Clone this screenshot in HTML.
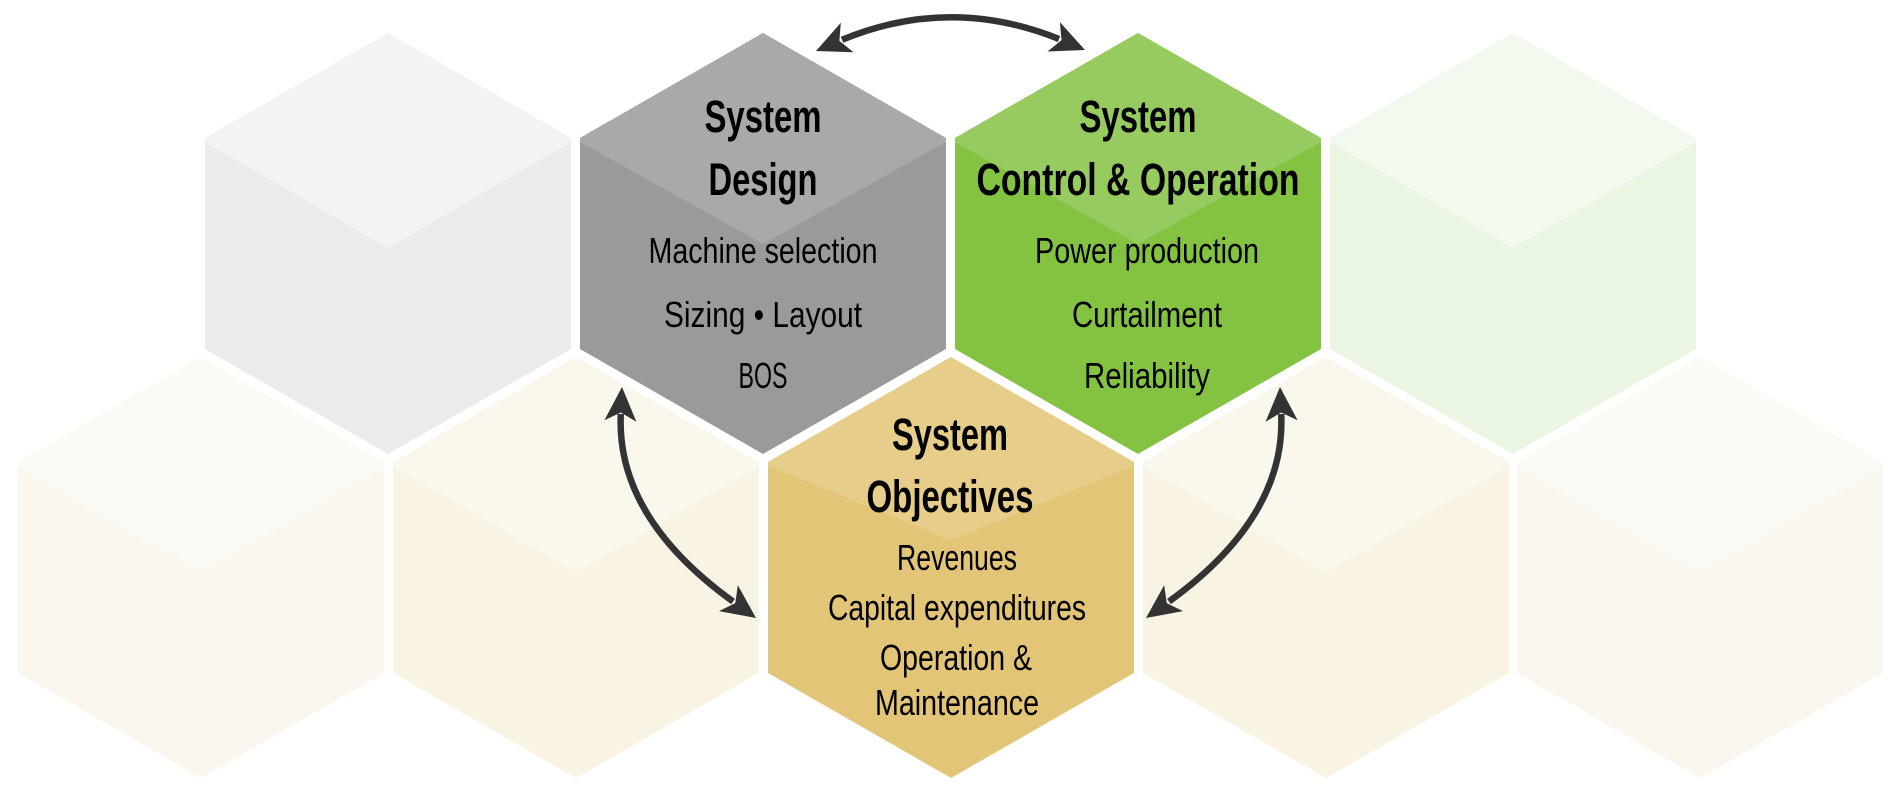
<!DOCTYPE html>
<html><head><meta charset="utf-8"><style>
html,body{margin:0;padding:0;background:#fff;}
svg{display:block;}
text{font-family:"Liberation Sans Narrow","Liberation Sans",sans-serif;fill:#000;text-anchor:middle;}
.t{font-weight:bold;font-size:45px;}
.s{font-size:36px;}
</style></head><body>
<svg width="1902" height="798" viewBox="0 0 1902 798" xmlns="http://www.w3.org/2000/svg">
<g>
<polygon points="388,33 571,138 571,349 388,454 205,349 205,138" fill="#ebebeb"/>
<polygon points="388,33 571,138 571,142 388,248 205,142 205,138" fill="#f3f3f3"/>
<polygon points="763,33 946,138 946,349 763,454 580,349 580,138" fill="#9a9a9a"/>
<polygon points="763,33 946,138 946,142 763,244 580,142 580,138" fill="#a9a9a9"/>
<polygon points="1138,33 1321,138 1321,349 1138,454 955,349 955,138" fill="#83c341"/>
<polygon points="1138,33 1321,138 1321,142 1138,244 955,142 955,138" fill="#97cb60"/>
<polygon points="1513,33 1696,138 1696,349 1513,454 1330,349 1330,138" fill="#eaf5e2"/>
<polygon points="1513,33 1696,138 1696,142 1513,248 1330,142 1330,138" fill="#f3f9ee"/>
</g>
<g>
<polygon points="201,357 384,462 384,673 201,778 18,673 18,462" fill="#faf7ef"/>
<polygon points="201,357 384,462 384,466 201,572 18,466 18,462" fill="#fbfaf4"/>
<polygon points="576,357 759,462 759,673 576,778 393,673 393,462" fill="#f8f3e3"/>
<polygon points="576,357 759,462 759,466 576,572 393,466 393,462" fill="#faf7ec"/>
<polygon points="951,357 1134,462 1134,673 951,778 768,673 768,462" fill="#e2c576"/>
<polygon points="951,357 1134,462 1134,466 951,540 768,466 768,462" fill="#e6cd8a"/>
<polygon points="1326,357 1509,462 1509,673 1326,778 1143,673 1143,462" fill="#f8f3e3"/>
<polygon points="1326,357 1509,462 1509,466 1326,572 1143,466 1143,462" fill="#faf7ec"/>
<polygon points="1700,357 1883,462 1883,673 1700,778 1517,673 1517,462" fill="#faf7ef"/>
<polygon points="1700,357 1883,462 1883,466 1700,572 1517,466 1517,462" fill="#fbfaf4"/>
</g>

<g fill="none" stroke="#333" stroke-width="6.5">
<path d="M842,39.8 Q950,-5 1059,39"/>
<path d="M620.8,414 Q616,517 733,601.5"/>
<path d="M1281.2,414 Q1286,517 1169,601.5"/>
</g>
<g fill="#333">
<polygon points="816,51 853.5,52.2 839.4,40.9 840.8,22.8"/>
<polygon points="1085,50 1047.5,51.5 1061.5,40.1 1059.9,22.1"/>
<polygon points="622,387 636.4,421.7 620.8,412.5 604.4,420.3"/>
<polygon points="756,618 719,611.1 735.3,603.1 737.8,585.1"/>
<polygon points="1280,387 1265.6,421.7 1281.2,412.5 1297.6,420.3"/>
<polygon points="1146,618 1183,611.1 1166.7,603.1 1164.2,585.1"/>
</g>

<text class="t" x="763" y="132" textLength="117" lengthAdjust="spacingAndGlyphs">System</text>
<text class="t" x="763" y="195" textLength="109" lengthAdjust="spacingAndGlyphs">Design</text>
<text class="s" x="763" y="263" textLength="229" lengthAdjust="spacingAndGlyphs">Machine selection</text>
<text class="s" x="763" y="327" textLength="198" lengthAdjust="spacingAndGlyphs">Sizing  •  Layout</text>
<text class="s" x="763" y="388" textLength="49" lengthAdjust="spacingAndGlyphs">BOS</text>

<text class="t" x="1138" y="132" textLength="117" lengthAdjust="spacingAndGlyphs">System</text>
<text class="t" x="1138" y="195" textLength="323" lengthAdjust="spacingAndGlyphs">Control &amp; Operation</text>
<text class="s" x="1147" y="263" textLength="224" lengthAdjust="spacingAndGlyphs">Power production</text>
<text class="s" x="1147" y="327" textLength="150" lengthAdjust="spacingAndGlyphs">Curtailment</text>
<text class="s" x="1147" y="388" textLength="126" lengthAdjust="spacingAndGlyphs">Reliability</text>

<text class="t" x="950" y="450" textLength="116" lengthAdjust="spacingAndGlyphs">System</text>
<text class="t" x="950" y="512" textLength="167" lengthAdjust="spacingAndGlyphs">Objectives</text>
<text class="s" x="957" y="570" textLength="120" lengthAdjust="spacingAndGlyphs">Revenues</text>
<text class="s" x="957" y="620" textLength="258" lengthAdjust="spacingAndGlyphs">Capital expenditures</text>
<text class="s" x="956" y="670" textLength="152" lengthAdjust="spacingAndGlyphs">Operation &amp;</text>
<text class="s" x="957" y="715" textLength="164" lengthAdjust="spacingAndGlyphs">Maintenance</text>
</svg>
</body></html>
